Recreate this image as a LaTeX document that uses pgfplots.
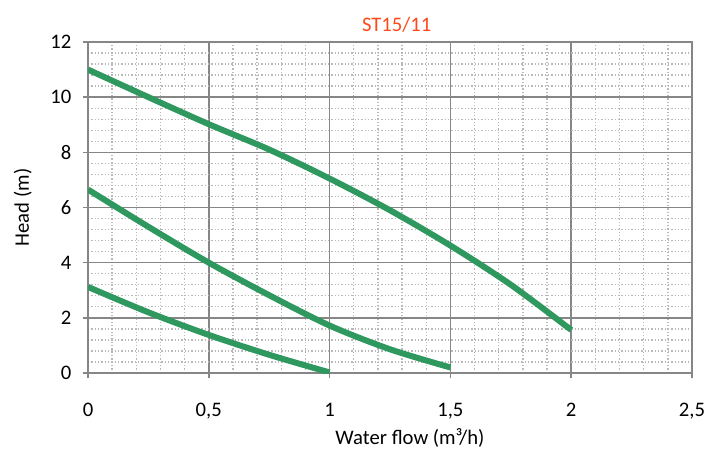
\documentclass[border=0pt]{standalone}
\usepackage{pgfplots}
\pgfplotsset{compat=1.18}
\usepackage{fontspec}
\setmainfont{Carlito}
\usetikzlibrary{calc}
\definecolor{curve}{RGB}{46,152,94}
\definecolor{titlered}{RGB}{255,72,24}
\definecolor{gridgray}{RGB}{134,134,134}
\definecolor{minorgray}{RGB}{185,185,185}
\begin{document}
\begin{tikzpicture}
	\begin{axis}[
		scale only axis,
		width=453pt, height=248.25pt,
		xmin=0, xmax=2.5, ymin=0, ymax=12,
		xtick={0,0.5,...,2.5}, ytick={0,2,...,12},
		minor x tick num=4, minor y tick num=4,
		grid=both,
		major grid style={gridgray, line width=1.1pt},
		minor grid style={minorgray, line width=1pt, dash pattern=on 1.1pt off 1.4pt},
		axis line style={gridgray, line width=1.6pt},
		tick style={gridgray, line width=1.1pt},
		tick align=outside, major tick length=4pt, minor tick length=0pt,
		xtick pos=bottom, ytick pos=left,
		/pgf/number format/.cd, use comma, assume math mode=true,
		/pgfplots/.cd,
		tick label style={font=\fontsize{15.5}{18}\selectfont, black},
		xticklabel style={yshift=-15pt},
		yticklabel style={xshift=-5pt},
		xlabel={Water flow (m³/h)},
		ylabel={Head (m)},
		label style={font=\fontsize{15.5}{18}\selectfont},
		xlabel style={yshift=0pt, xshift=15pt},
		ylabel style={yshift=7pt},
		title={ST15/11},
		title style={font=\fontsize{15.5}{18}\selectfont, text=titlered, yshift=-2pt, xshift=5pt},
		]
		\addplot[curve, line width=4.5pt, smooth] coordinates {
			(0,11.0) (0.25,10.0) (0.5,9.02) (0.75,8.1) (1.0,7.05) (1.25,5.9) (1.5,4.62) (1.75,3.2) (2.0,1.56)};
		\addplot[curve, line width=4.5pt, smooth] coordinates {
			(0,6.65) (0.25,5.3) (0.5,4.0) (0.75,2.82) (1.0,1.72) (1.25,0.86) (1.5,0.2)};
		\addplot[curve, line width=4.5pt, smooth] coordinates {
			(0,3.12) (0.25,2.2) (0.5,1.38) (0.75,0.66) (1.0,0.02)};
	\end{axis}
	\pgfresetboundingbox
	\path ($(current axis.south west)+(-66pt,-59.25pt)$) rectangle ($(current axis.north east)+(25.5pt,31.5pt)$);
\end{tikzpicture}
\end{document}
